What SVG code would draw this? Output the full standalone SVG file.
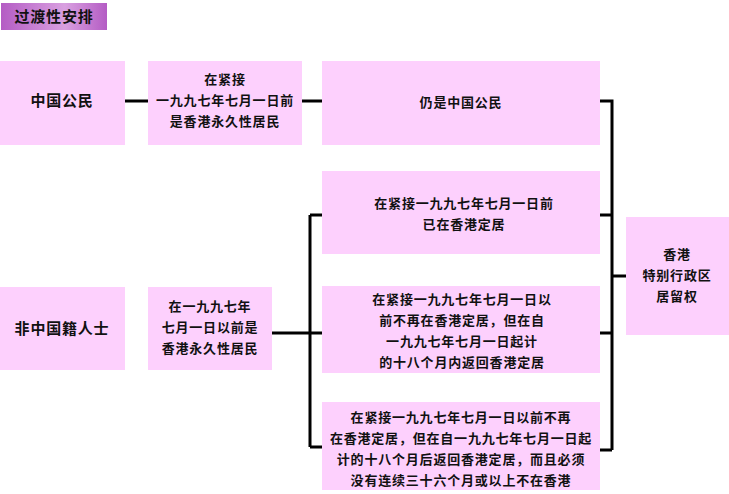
<svg xmlns="http://www.w3.org/2000/svg" width="729" height="494" viewBox="0 0 729 494">
<style>
.b{fill:#fdd0fd}
.t{font-family:"Noto Sans CJK SC",sans-serif;font-size:13px;letter-spacing:0.8px;font-weight:bold;fill:#111;text-anchor:middle}
.h{font-size:15px}
.c{stroke:#000;stroke-width:3;fill:none}
</style>
<defs><linearGradient id="g" x1="0" x2="1"><stop offset="0" stop-color="#b45cc4"/><stop offset="0.6" stop-color="#d9a0e0"/><stop offset="1" stop-color="#b45cc4"/></linearGradient></defs>
<rect width="729" height="494" fill="#fff"/>
<g id="title"><rect x="1" y="3" width="106" height="27" fill="url(#g)"/><text class="t h" x="54" y="22">过渡性安排</text></g>
<g id="connectors">
<path class="c" d="M125 101H148M302 101H322M272 333H310M310 215V447M310 215H322M310 333H322M310 447H322M600 101H612V450M600 215H612M600 333H612M600 450H612M612 276H626"/>
</g>
<g id="n1"><rect class="b" x="0" y="61" width="125" height="84"/><text class="t h" x="62" y="106">中国公民</text></g>
<g id="n2"><rect class="b" x="148" y="61" width="154" height="84"/><text class="t" x="225" y="84">在紧接</text><text class="t" x="225" y="105">一九九七年七月一日前</text><text class="t" x="225" y="126">是香港永久性居民</text></g>
<g id="n3"><rect class="b" x="322" y="61" width="278" height="84"/><text class="t" x="461" y="107">仍是中国公民</text></g>
<g id="n4"><rect class="b" x="0" y="287" width="125" height="83"/><text class="t h" x="62" y="334">非中国籍人士</text></g>
<g id="n5"><rect class="b" x="148" y="287" width="124" height="83"/><text class="t" x="210" y="311">在一九九七年</text><text class="t" x="210" y="332">七月一日以前是</text><text class="t" x="210" y="353">香港永久性居民</text></g>
<g id="n6"><rect class="b" x="322" y="171" width="278" height="83"/><text class="t" x="464" y="208">在紧接一九九七年七月一日前</text><text class="t" x="464" y="229">已在香港定居</text></g>
<g id="n7"><rect class="b" x="322" y="286" width="278" height="87"/><text class="t" x="462" y="304">在紧接一九九七年七月一日以</text><text class="t" x="462" y="325">前不再在香港定居，但在自</text><text class="t" x="462" y="346">一九九七年七月一日起计</text><text class="t" x="462" y="367">的十八个月内返回香港定居</text></g>
<g id="n8"><rect class="b" x="322" y="402" width="278" height="88"/><text class="t" x="461" y="422">在紧接一九九七年七月一日以前不再</text><text class="t" x="461" y="443">在香港定居，但在自一九九七年七月一日起</text><text class="t" x="461" y="464">计的十八个月后返回香港定居，而且必须</text><text class="t" x="461" y="485">没有连续三十六个月或以上不在香港</text></g>
<g id="n9"><rect class="b" x="626" y="217" width="103" height="118"/><text class="t" x="677" y="259">香港</text><text class="t" x="677" y="280">特别行政区</text><text class="t" x="677" y="301">居留权</text></g>
</svg>
